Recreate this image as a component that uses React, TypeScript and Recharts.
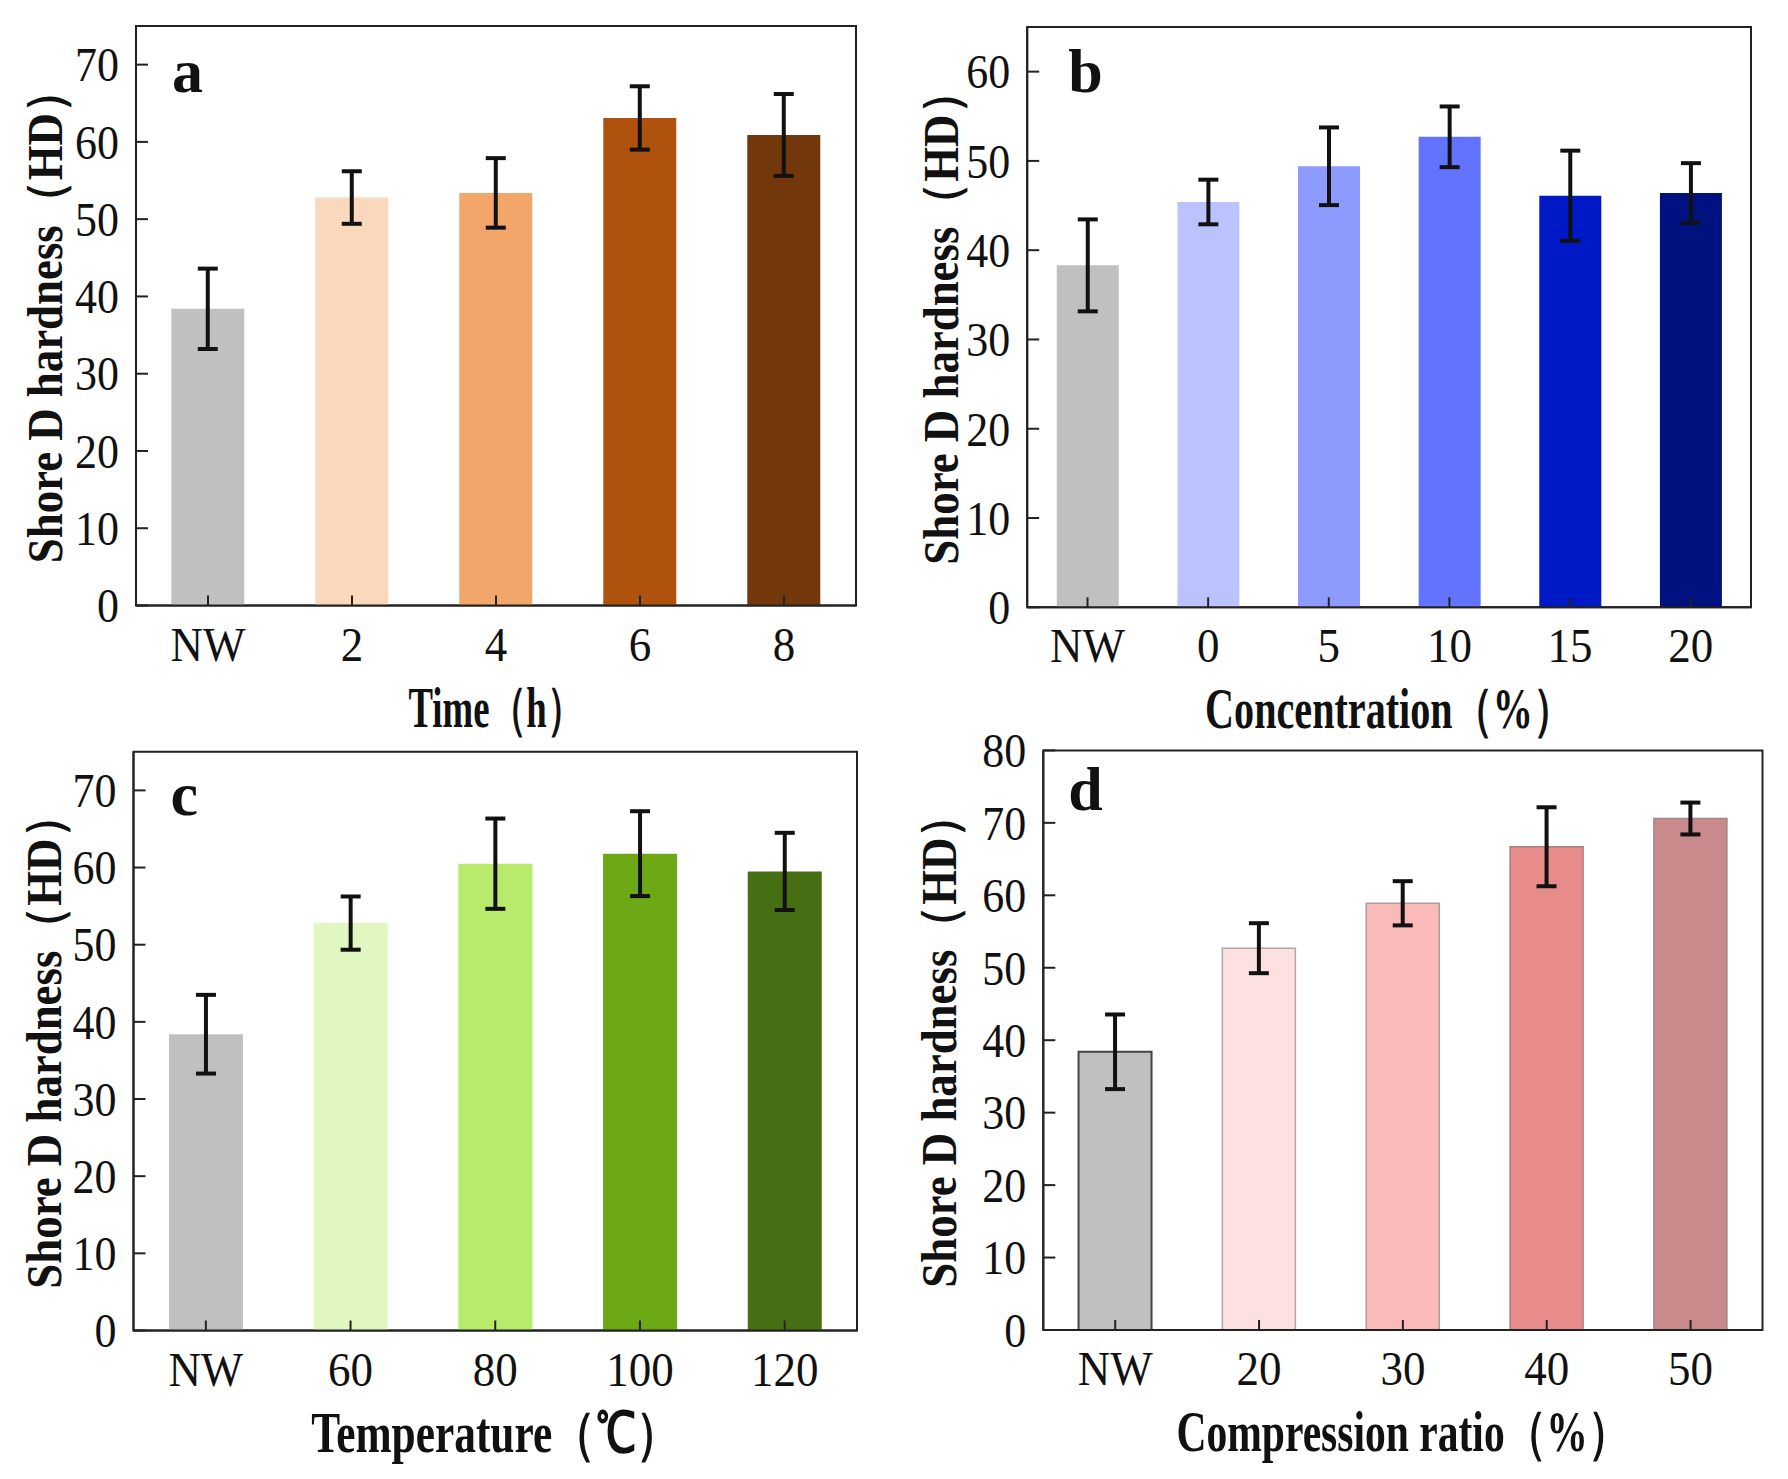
import React from 'react';
import { BarChart, Bar, XAxis, YAxis, ErrorBar, Cell, ReferenceArea } from 'recharts';

// ---------- data ----------
const catsA = ['NW', '2', '4', '6', '8'];
const valsA = [38.4, 52.8, 53.4, 63.1, 60.9];
const errsA = [5.2, 3.4, 4.5, 4.1, 5.3];
const colorsA = ['#c0c0c0', '#fad8bc', '#f3a66a', '#ae520e', '#72370b'];

const catsB = ['NW', '0', '5', '10', '15', '20'];
const valsB = [38.3, 45.4, 49.4, 52.7, 46.1, 46.4];
const errsB = [5.15, 2.5, 4.35, 3.4, 5.05, 3.35];
const colorsB = ['#c0c0c0', '#bbc3fe', '#8e9bfe', '#6273fe', '#0019c6', '#00127f'];

const catsC = ['NW', '60', '80', '100', '120'];
const valsC = [38.4, 52.8, 60.5, 61.8, 59.5];
const errsC = [5.1, 3.45, 5.85, 5.5, 5.0];
const colorsC = ['#c0c0c0', '#e0f7c0', '#b8eb6c', '#6da815', '#466e12'];

const catsD = ['NW', '20', '30', '40', '50'];
const valsD = [38.4, 52.7, 58.9, 66.7, 70.6];
const errsD = [5.15, 3.45, 3.05, 5.45, 2.2];
const colorsD = ['#c0c0c0', '#fde1e1', '#fbbaba', '#e78b8b', '#c88a8a'];
const strokesD = ['#444444', '#b4a4a4', '#b09c9c', '#a48282', '#a08686'];

const ticksA = [0, 10, 20, 30, 40, 50, 60, 70];
const ticksB = [0, 10, 20, 30, 40, 50, 60];
const ticksC = [0, 10, 20, 30, 40, 50, 60, 70];
const ticksD = [0, 10, 20, 30, 40, 50, 60, 70, 80];

const titleA = 'Time（h）';
const titleB = 'Concentration（%）';
const titleC = 'Temperature（℃）';
const titleD = 'Compression ratio（%）';
const yTitle = 'Shore D hardness（HD）';

const FONT = '"Liberation Serif", "Times New Roman", serif';
const AX = '#222222';

const YW = 100;
const XH = 130;

type Geom = { L: number; R: number; T: number; B: number };

const XTick = (props: any) => {
  const { x, y, payload } = props;
  return (
    <g>
      <line x1={x} y1={y} x2={x} y2={y - 10} stroke={AX} strokeWidth={2} />
      <g transform={`translate(${x},${y + 55}) scale(1,1.09)`}>
        <text x={0} y={0} textAnchor="middle" fontFamily={FONT} fontSize={45} fill="#111">
          {payload.value}
        </text>
      </g>
    </g>
  );
};

const YTick = (props: any) => {
  const { x, y, payload } = props;
  return (
    <g>
      <line x1={x} y1={y} x2={x + 12} y2={y} stroke={AX} strokeWidth={2} />
      <g transform={`translate(${x - 17},${y}) scale(1,1.12)`}>
        <text x={0} y={0} dy="0.34em" textAnchor="end" fontFamily={FONT} fontSize={44} fill="#111">
          {payload.value}
        </text>
      </g>
    </g>
  );
};

type PanelProps = {
  cats: string[];
  vals: number[];
  errs: number[];
  colors: string[];
  strokes?: string[];
  yMax: number;
  yTicks: number[];
  xTitle: string;
  xTitleLen: number;
  letter: string;
  letterDx: number;
  letterDy: number;
  yTitleDx: number;
  g: Geom; // page coordinates of plot area
  ox: number;
  oy: number;
  w: number;
  h: number;
};

const Panel = (p: PanelProps) => {
  const data = p.cats.map((c, i) => ({ name: c, value: p.vals[i], err: p.errs[i] }));
  const L = p.g.L - p.ox;
  const R = p.g.R - p.ox;
  const T = p.g.T - p.oy;
  const B = p.g.B - p.oy;
  const margin = { top: T, right: p.w - R, left: L - YW, bottom: p.h - B - XH };
  const cx = (L + R) / 2;
  const cy = (T + B) / 2;
  const ytx = L + p.yTitleDx;
  return (
    <div style={{ position: 'absolute', left: p.ox - 8, top: p.oy - 8, width: p.w, height: p.h }}>
      <BarChart width={p.w} height={p.h} data={data} margin={margin} barCategoryGap="24.5%">
        <XAxis
          dataKey="name"
          height={XH}
          tickSize={0}
          tickMargin={0}
          tickLine={false}
          axisLine={{ stroke: AX, strokeWidth: 2 }}
          tick={<XTick />}
          interval={0}
          label={{
            content: () => (
              <text
                x={cx}
                y={B + 121}
                textAnchor="middle"
                fontFamily={FONT}
                fontWeight="bold"
                fontSize={56}
                fill="#111"
                textLength={p.xTitleLen}
                lengthAdjust="spacingAndGlyphs"
              >
                {p.xTitle}
              </text>
            ),
          }}
        />
        <YAxis
          type="number"
          domain={[0, p.yMax]}
          ticks={p.yTicks}
          interval={0}
          width={YW}
          tickSize={0}
          tickMargin={0}
          tickLine={false}
          axisLine={{ stroke: AX, strokeWidth: 2 }}
          tick={<YTick />}
          label={{
            content: () => (
              <text
                x={ytx}
                y={cy}
                dy="0.34em"
                transform={`rotate(-90, ${ytx}, ${cy})`}
                textAnchor="middle"
                fontFamily={FONT}
                fontWeight="bold"
                fontSize={50}
                fill="#111"
                textLength={495}
                lengthAdjust="spacingAndGlyphs"
              >
                {yTitle}
              </text>
            ),
          }}
        />
        <Bar dataKey="value" isAnimationActive={false}>
          {data.map((d, i) => (
            <Cell
              key={d.name}
              fill={p.colors[i]}
              stroke={p.strokes ? p.strokes[i] : 'none'}
              strokeWidth={p.strokes ? (i === 0 ? 2 : 1.5) : 0}
            />
          ))}
          <ErrorBar dataKey="err" width={10} strokeWidth={4} stroke="#111" isAnimationActive={false} />
        </Bar>
        <ReferenceArea
          y1={0}
          y2={p.yMax}
          fill="none"
          fillOpacity={0}
          stroke={AX}
          strokeWidth={2}
          ifOverflow="visible"
        />
      </BarChart>
      <svg
        width={p.w}
        height={p.h}
        style={{ position: 'absolute', left: 0, top: 0, pointerEvents: 'none' }}
      >
        <text
          x={L + p.letterDx}
          y={T + p.letterDy}
          fontFamily={FONT}
          fontWeight="bold"
          fontSize={62}
          fill="#111"
        >
          {p.letter}
        </text>
      </svg>
    </div>
  );
};

export default function App() {
  return (
    <div style={{ position: 'relative', width: 1772, height: 1463, background: '#fff' }}>
      <Panel
        cats={catsA}
        vals={valsA}
        errs={errsA}
        colors={colorsA}
        yMax={75}
        yTicks={ticksA}
        xTitle={titleA}
        xTitleLen={175}
        letter="a"
        letterDx={36}
        letterDy={66}
        yTitleDx={-91}
        g={{ L: 136, R: 856, T: 26, B: 605.5 }}
        ox={0}
        oy={0}
        w={894}
        h={740}
      />
      <Panel
        cats={catsB}
        vals={valsB}
        errs={errsB}
        colors={colorsB}
        yMax={65}
        yTicks={ticksB}
        xTitle={titleB}
        xTitleLen={368}
        letter="b"
        letterDx={41}
        letterDy={65}
        yTitleDx={-86}
        g={{ L: 1027.2, R: 1751, T: 27, B: 607.3 }}
        ox={860}
        oy={0}
        w={928}
        h={740}
      />
      <Panel
        cats={catsC}
        vals={valsC}
        errs={errsC}
        colors={colorsC}
        yMax={75}
        yTicks={ticksC}
        xTitle={titleC}
        xTitleLen={368}
        letter="c"
        letterDx={37}
        letterDy={63}
        yTitleDx={-89}
        g={{ L: 133.5, R: 857, T: 751.8, B: 1330.5 }}
        ox={0}
        oy={700}
        w={894}
        h={779}
      />
      <Panel
        cats={catsD}
        vals={valsD}
        errs={errsD}
        colors={colorsD}
        strokes={strokesD}
        yMax={80}
        yTicks={ticksD}
        xTitle={titleD}
        xTitleLen={453}
        letter="d"
        letterDx={25}
        letterDy={60}
        yTitleDx={-104}
        g={{ L: 1043.3, R: 1762.5, T: 750.4, B: 1330 }}
        ox={860}
        oy={700}
        w={928}
        h={779}
      />
    </div>
  );
}
